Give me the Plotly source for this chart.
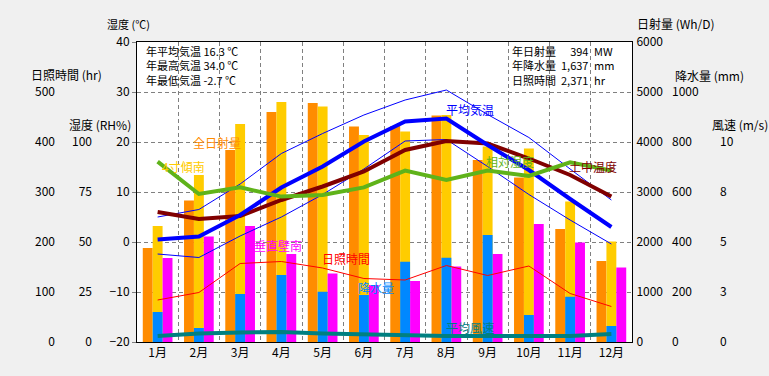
import plotly.graph_objects as go

# ---------------- data ----------------
months = ["1月", "2月", "3月", "4月", "5月", "6月", "7月", "8月", "9月", "10月", "11月", "12月"]
solar_total = [1880, 2830, 3840, 4600, 4780, 4310, 4320, 4530, 3640, 3290, 2260, 1620]   # 全日射量 (Wh/D)
solar_tilt = [2320, 3340, 4360, 4800, 4710, 4140, 4210, 4540, 3910, 3870, 2810, 2010]    # 4寸傾南 (Wh/D)
solar_wall = [1680, 2110, 2320, 1760, 1370, 1140, 1220, 1510, 1760, 2360, 1990, 1490]    # 垂直壁南 (Wh/D)
precip = [120, 56, 192, 268, 201, 188, 321, 337, 428, 108, 181, 64]                     # 降水量 (mm)
temp_mean = [0.5, 1.1, 5.4, 10.9, 15.1, 20.1, 24.1, 24.7, 19.4, 14.4, 8.6, 3.0]         # 平均気温
temp_max = [5.0, 6.5, 11.6, 17.7, 21.7, 25.4, 28.4, 30.4, 25.5, 20.9, 14.6, 8.4]
temp_min = [-2.4, -3.1, 1.2, 5.0, 9.5, 14.6, 20.2, 20.5, 15.1, 9.5, 4.4, -0.4]
temp_soil = [6.0, 4.6, 5.2, 8.4, 11.1, 14.1, 18.4, 20.2, 19.7, 16.7, 13.4, 9.1]          # 土中温度
humidity = [90.2, 74.0, 77.3, 72.7, 73.5, 77.3, 85.7, 81.0, 85.7, 83.0, 89.8, 85.7]       # 相対湿度
sunshine = [84, 99, 157, 161, 148, 127, 124, 153, 133, 152, 97, 71]                    # 日照時間
wind = [0.3, 0.43, 0.48, 0.5, 0.43, 0.38, 0.3, 0.3, 0.3, 0.3, 0.3, 0.4]                 # 平均風速

temp_ticks = [-20, -10, 0, 10, 20, 30, 40]
sun_ticks = [0, 100, 200, 300, 400, 500]
hum_ticks = [0, 25, 50, 75, 100]
solar_ticks = [0, 1000, 2000, 3000, 4000, 5000, 6000]
precip_ticks = [0, 200, 400, 600, 800, 1000]
wind_ticks = [0, 2.5, 5, 7.5, 10]
wind_ticktext = ["0", "3", "5", "8", "10"]

info_left = ["年平均気温 16.3 ℃", "年最高気温 34.0 ℃", "年最低気温 -2.7 ℃"]
info_right_labels = ["年日射量", "年降水量", "日照時間"]
info_right_values = ["394", "1,637", "2,371"]
info_right_units = ["MW", "mm", "hr"]

# ---------------- geometry helpers ----------------
W, H = 769, 376
L, R, T, B = 137, 632, 42, 342
FONT = "Noto Sans CJK JP"


def px(x):
    return x / W


def py(y):
    return (B - y) / (B - T)


fig = go.Figure()

bw = 0.24
fig.add_bar(x=months, y=solar_total, yaxis="y", width=bw, offset=-0.36,
            marker=dict(color="#ff8c00", line=dict(width=0)))
fig.add_bar(x=months, y=solar_tilt, yaxis="y", width=bw, offset=-0.12,
            marker=dict(color="#ffcc00", line=dict(width=0)))
fig.add_bar(x=months, y=solar_wall, yaxis="y", width=bw, offset=0.12,
            marker=dict(color="#ff00ff", line=dict(width=0)))
fig.add_bar(x=months, y=precip, yaxis="y2", width=bw, offset=-0.12,
            marker=dict(color="#0088ff", line=dict(width=0)))

fig.add_scatter(x=months, y=temp_max, yaxis="y3", mode="lines", line=dict(color="#0000ff", width=1))
fig.add_scatter(x=months, y=temp_min, yaxis="y3", mode="lines", line=dict(color="#0000ff", width=1))
fig.add_scatter(x=months, y=temp_soil, yaxis="y3", mode="lines", line=dict(color="#800000", width=4))
fig.add_scatter(x=months, y=temp_mean, yaxis="y3", mode="lines", line=dict(color="#0000ff", width=4))
fig.add_scatter(x=months, y=sunshine, yaxis="y4", mode="lines", line=dict(color="#ff0000", width=1))
fig.add_scatter(x=months, y=humidity, yaxis="y5", mode="lines", line=dict(color="#5fb31a", width=4))
fig.add_scatter(x=months, y=wind, yaxis="y6", mode="lines", line=dict(color="#008080", width=4))

tickfont = dict(family=FONT, size=12, color="#000000")
noaxis = dict(showgrid=False, zeroline=False, showline=False, ticks="", tickfont=tickfont)

fig.update_layout(
    width=W, height=H,
    margin=dict(l=0, r=0, t=T, b=H - B, pad=0),
    paper_bgcolor="#f0f0f0", plot_bgcolor="#ffffff",
    showlegend=False, barmode="overlay",
    font=dict(family=FONT, size=12, color="#000000"),
    xaxis=dict(domain=[px(L), px(R)], type="category", tickson="boundaries",
               showgrid=True, gridcolor="#808080", griddash="4px,3px", gridwidth=1,
               showline=True, mirror=True, linecolor="#000000", linewidth=1,
               ticks="", tickfont=tickfont, zeroline=False),
    yaxis=dict(range=[0, 6000], tickvals=solar_ticks, side="right",
               showgrid=False, zeroline=False, showline=True, mirror=True,
               linecolor="#000000", linewidth=1, ticks="outside", ticklen=1,
               tickcolor="rgba(0,0,0,0)", tickfont=tickfont),
    yaxis2=dict(overlaying="y", anchor="free", position=px(671), side="right",
                range=[0, 1200], tickvals=precip_ticks, **noaxis),
    yaxis3=dict(overlaying="y", anchor="x", side="left", range=[-20, 40],
                tickvals=temp_ticks, showgrid=True, gridcolor="#808080",
                griddash="4px,3px", gridwidth=1, zeroline=False, showline=False,
                ticks="outside", ticklen=4, tickcolor="#808080", tickfont=tickfont),
    yaxis4=dict(overlaying="y", anchor="free", position=px(55), side="left",
                range=[0, 600], tickvals=sun_ticks, **noaxis),
    yaxis5=dict(overlaying="y", anchor="free", position=px(92), side="left",
                range=[0, 150], tickvals=hum_ticks, **noaxis),
    yaxis6=dict(overlaying="y", anchor="free", position=px(719), side="right",
                range=[0, 15], tickvals=wind_ticks, ticktext=wind_ticktext, **noaxis),
)

annotations = []


def note(text, x, y, color="#000000", xanchor="left", size=12, align="left"):
    annotations.append(dict(text=text, x=px(x), y=py(y), xref="paper", yref="paper",
                            xanchor=xanchor, yanchor="middle", showarrow=False, align=align,
                            font=dict(family=FONT, size=size, color=color)))


# axis titles
note("湿度 (℃)", 105, 24, size=11)
note("日照時間 (hr)", 29, 74)
note("湿度 (RH%)", 67, 124)
note("日射量 (Wh/D)", 635, 24)
note("降水量 (mm)", 673, 75)
note("風速 (m/s)", 710, 125)

# info boxes (each block is one multi-line text)
note("<br>".join(info_left), 144, 66, size=11)
note("<br>".join(info_right_labels), 510, 66, size=11)
note("<br>".join(info_right_values), 590, 66, xanchor="right", size=11, align="right")
note("<br>".join(info_right_units), 592, 66, size=11)

# series labels
note("全日射量", 217, 142, color="#ff8c00", xanchor="center")
note("4寸傾南", 183, 166, color="#ffcc00", xanchor="center")
note("垂直壁南", 278, 246, color="#ff00ff", xanchor="center")
note("日照時間", 346, 258, color="#ff0000", xanchor="center")
note("降水量", 376, 287, color="#0088ff", xanchor="center")
note("平均風速", 470, 327, color="#008080", xanchor="center")
note("平均気温", 470, 109, color="#0000ff", xanchor="center")
note("相対湿度", 510, 161, color="#5fb31a", xanchor="center")
note("土中温度", 593, 166, color="#800000", xanchor="center")

fig.update_layout(annotations=annotations)

fig.write_html("out.html", config={"displayModeBar": False},
               post_script="document.body.style.margin='0';document.body.style.overflow='hidden';")
